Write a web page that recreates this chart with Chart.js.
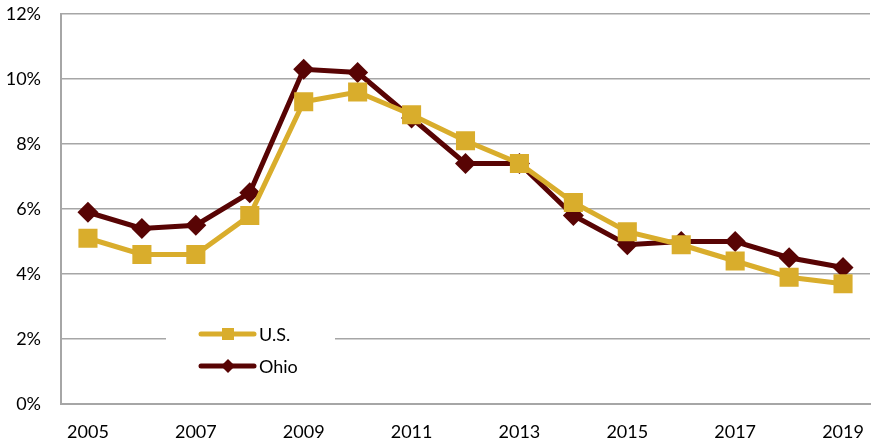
<!DOCTYPE html>
<html>
<head>
<meta charset="utf-8">
<script src="https://cdn.jsdelivr.net/npm/chart.js@4/dist/chart.umd.min.js"></script>
<style>
  body { margin: 0; background: #fff; }
  #wrap { width: 871px; height: 441px; }
</style>
</head>
<body>
<div id="wrap"><canvas id="myChart" width="871" height="441"></canvas></div>
<script>
var years = ["2005", "2006", "2007", "2008", "2009", "2010", "2011", "2012", "2013", "2014", "2015", "2016", "2017", "2018", "2019"];
var us = [5.1, 4.6, 4.6, 5.8, 9.3, 9.6, 8.9, 8.1, 7.4, 6.2, 5.3, 4.9, 4.4, 3.9, 3.7];
var ohio = [5.9, 5.4, 5.5, 6.5, 10.3, 10.2, 8.8, 7.4, 7.4, 5.8, 4.9, 5.0, 5.0, 4.5, 4.2];

var gold = "#d9ad2c";
var maroon = "#580404";
var fontFamily = "Lato, 'Open Sans', sans-serif";

// legend drawn inside the plot, like the original
var insideLegend = {
    id: "insideLegend",
    beforeDatasetsDraw: function (chart) {
        var c = chart.ctx;
        c.save();
        c.fillStyle = "#fff";
        c.fillRect(166, 318, 169, 64);
        var items = [
            { label: "U.S.", color: gold, y: 334, style: "rect" },
            { label: "Ohio", color: maroon, y: 366, style: "diamond" },
        ];
        items.forEach(function (it) {
            c.strokeStyle = it.color;
            c.lineWidth = 5;
            c.lineCap = "round";
            c.beginPath();
            c.moveTo(201, it.y);
            c.lineTo(254, it.y);
            c.stroke();
            c.fillStyle = it.color;
            if (it.style == "rect") {
                c.fillRect(222, it.y - 6, 12, 12);
            } else {
                c.beginPath();
                c.moveTo(228, it.y - 7);
                c.lineTo(235, it.y);
                c.lineTo(228, it.y + 7);
                c.lineTo(221, it.y);
                c.closePath();
                c.fill();
            }
            c.fillStyle = "#000";
            c.font = "18px " + fontFamily;
            c.textBaseline = "middle";
            c.textAlign = "left";
            c.fillText(it.label, 259, it.y + 1);
        });
        c.restore();
    },
};

const ctx = document.getElementById("myChart").getContext("2d");
const myChart = new Chart(ctx, {
    type: "line",
    plugins: [insideLegend],
    data: {
        labels: years,
        datasets: [
            {
                label: "U.S.",
                data: us,
                borderColor: gold,
                backgroundColor: gold,
                borderWidth: 5,
                pointStyle: "rect",
                pointRadius: 13.5,
                pointHoverRadius: 13.5,
                pointBorderWidth: 0,
            },
            {
                label: "Ohio",
                data: ohio,
                borderColor: maroon,
                backgroundColor: maroon,
                borderWidth: 5,
                pointStyle: "rectRot",
                pointRadius: 10.5,
                pointHoverRadius: 10.5,
                pointBorderWidth: 0,
            },
        ],
    },
    options: {
        responsive: false,
        animation: false,
        layout: {
            autoPadding: false,
            padding: { top: 14, right: 1, left: 0, bottom: 0 },
        },
        plugins: {
            legend: { display: false },
            tooltip: { enabled: false },
        },
        scales: {
            x: {
                offset: true,
                // invisible ticks give the gap under the axis
                grid: { display: false, drawTicks: true, tickLength: 17, tickColor: "rgba(0,0,0,0)" },
                border: { color: "#a6a6a6", width: 2 },
                ticks: {
                    autoSkip: false,
                    maxRotation: 0,
                    padding: 0,
                    color: "#000",
                    font: { family: fontFamily, size: 18 },
                    callback: function (value, index) {
                        return index % 2 == 0 ? years[index] : "";
                    },
                },
                afterFit: function (scale) {
                    scale.height = 37;
                    scale.paddingLeft = 0;
                    scale.paddingRight = 0;
                },
            },
            y: {
                min: 0,
                max: 12,
                grid: { color: "#a6a6a6", lineWidth: 1.5, drawTicks: false },
                border: { color: "#a6a6a6", width: 2 },
                ticks: {
                    stepSize: 2,
                    padding: 20,
                    color: "#000",
                    font: { family: fontFamily, size: 18 },
                    callback: function (value) {
                        return value + "%";
                    },
                },
                afterFit: function (scale) {
                    scale.width = 61;
                    scale.paddingTop = 0;
                    scale.paddingBottom = 0;
                },
            },
        },
    },
});
</script>
</body>
</html>
